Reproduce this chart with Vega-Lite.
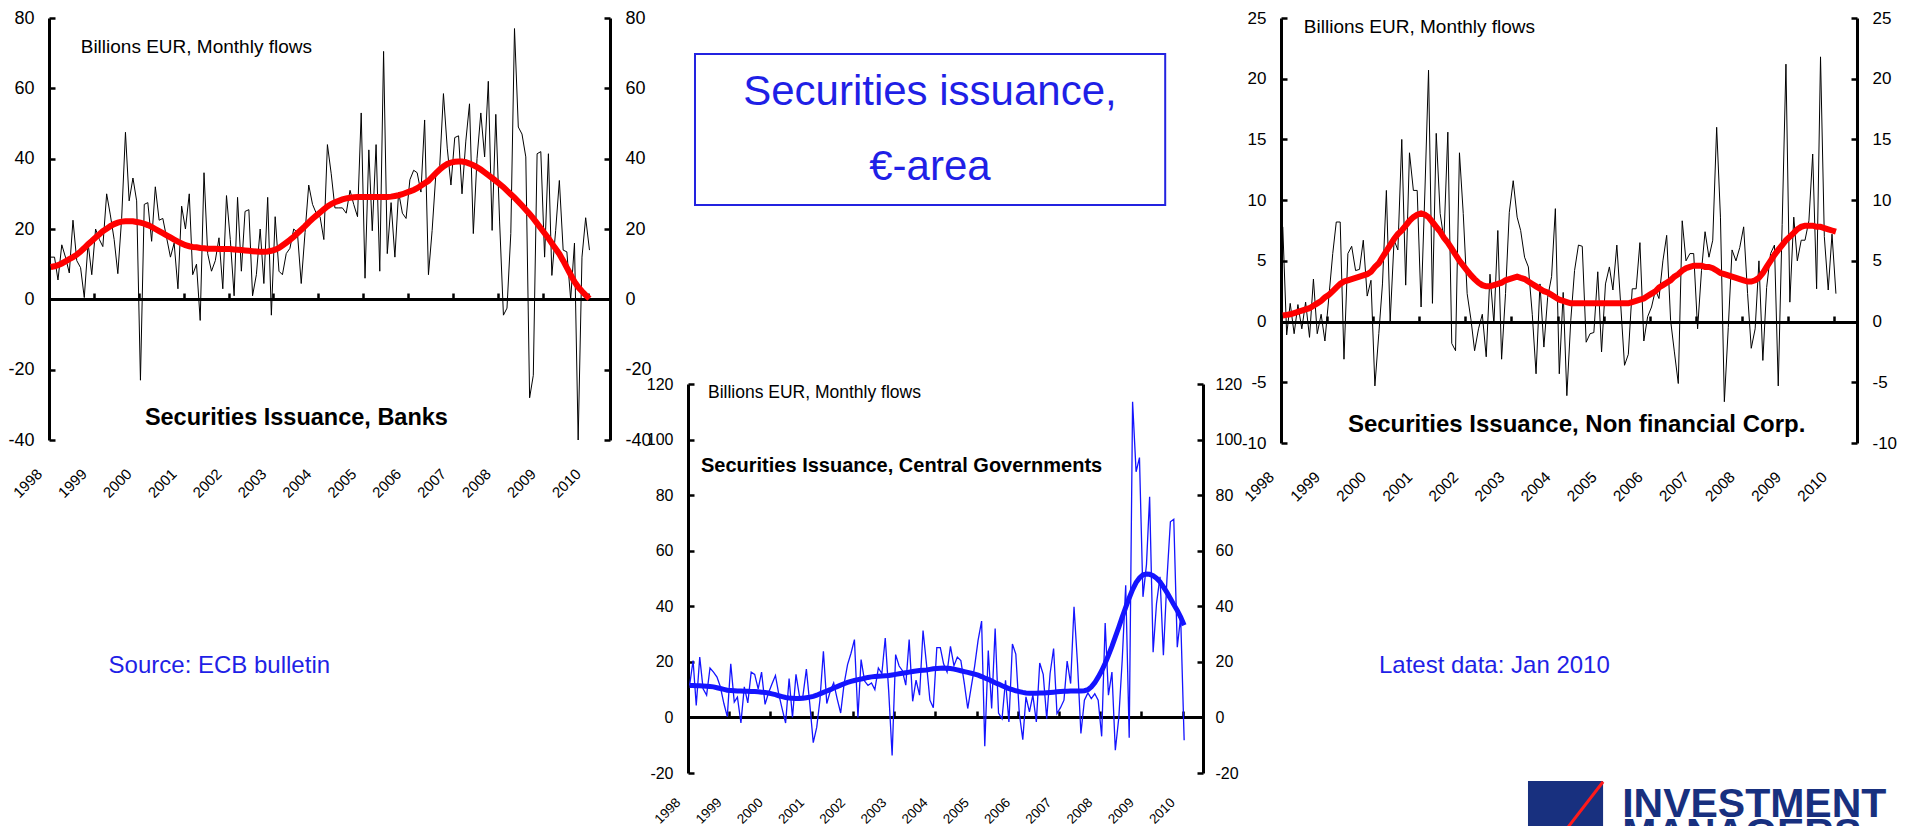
{
"$schema": "https://vega.github.io/schema/vega-lite/v6.json",
"background": "white",
"padding": {"left": 7, "top": 9, "right": 0, "bottom": 0},
"config": {"view": {"stroke": null}, "font": "Liberation Sans", "text": {"font": "Liberation Sans"},
 "axis": {"labelFont": "Liberation Sans", "labelColor": "#000000", "domainColor": "#000000", "tickColor": "#000000", "grid": false, "labelFlush": false, "labelOverlap": false}},
"datasets": {
"banks": [
{"m":"1998-01-15","v":12,"t":9.2},{"m":"1998-02-15","v":12,"t":9.4},{"m":"1998-03-15","v":5.5,"t":9.7},{"m":"1998-04-15","v":15.5,"t":10.2},{"m":"1998-05-15","v":12,"t":10.8},{"m":"1998-06-15","v":7.5,"t":11.4},{"m":"1998-07-15","v":22.5,"t":12},{"m":"1998-08-15","v":11,"t":12.7},{"m":"1998-09-15","v":9,"t":13.6},{"m":"1998-10-15","v":0.5,"t":14.6},{"m":"1998-11-15","v":16,"t":15.7},{"m":"1998-12-15","v":7,"t":16.6},
{"m":"1999-01-15","v":20,"t":17.6},{"m":"1999-02-15","v":17,"t":18.5},{"m":"1999-03-15","v":15,"t":19.4},{"m":"1999-04-15","v":30,"t":20.1},{"m":"1999-05-15","v":24,"t":20.8},{"m":"1999-06-15","v":17,"t":21.4},{"m":"1999-07-15","v":7.3,"t":21.8},{"m":"1999-08-15","v":23,"t":22.1},{"m":"1999-09-15","v":47.5,"t":22.2},{"m":"1999-10-15","v":28,"t":22.2},{"m":"1999-11-15","v":34.5,"t":22.2},{"m":"1999-12-15","v":28,"t":22},
{"m":"2000-01-15","v":-23,"t":21.8},{"m":"2000-02-15","v":27,"t":21.5},{"m":"2000-03-15","v":27.5,"t":21.1},{"m":"2000-04-15","v":16.5,"t":20.6},{"m":"2000-05-15","v":32,"t":20},{"m":"2000-06-15","v":22.5,"t":19.4},{"m":"2000-07-15","v":23,"t":18.8},{"m":"2000-08-15","v":17.5,"t":18.2},{"m":"2000-09-15","v":12,"t":17.6},{"m":"2000-10-15","v":16,"t":17},{"m":"2000-11-15","v":3,"t":16.4},{"m":"2000-12-15","v":26.5,"t":15.9},
{"m":"2001-01-15","v":20,"t":15.4},{"m":"2001-02-15","v":30,"t":15.1},{"m":"2001-03-15","v":7,"t":14.9},{"m":"2001-04-15","v":10,"t":14.8},{"m":"2001-05-15","v":-6,"t":14.6},{"m":"2001-06-15","v":36,"t":14.5},{"m":"2001-07-15","v":13,"t":14.4},{"m":"2001-08-15","v":8,"t":14.4},{"m":"2001-09-15","v":11,"t":14.4},{"m":"2001-10-15","v":17.5,"t":14.3},{"m":"2001-11-15","v":3,"t":14.3},{"m":"2001-12-15","v":29.5,"t":14.3},
{"m":"2002-01-15","v":17,"t":14.3},{"m":"2002-02-15","v":1,"t":14.2},{"m":"2002-03-15","v":29,"t":14.1},{"m":"2002-04-15","v":8,"t":14},{"m":"2002-05-15","v":25,"t":13.9},{"m":"2002-06-15","v":25.5,"t":13.8},{"m":"2002-07-15","v":1,"t":13.7},{"m":"2002-08-15","v":7,"t":13.6},{"m":"2002-09-15","v":20,"t":13.5},{"m":"2002-10-15","v":4.5,"t":13.5},{"m":"2002-11-15","v":29,"t":13.6},{"m":"2002-12-15","v":-4.5,"t":13.8},
{"m":"2003-01-15","v":23.5,"t":14.1},{"m":"2003-02-15","v":8,"t":14.6},{"m":"2003-03-15","v":7,"t":15.3},{"m":"2003-04-15","v":13,"t":16.1},{"m":"2003-05-15","v":14.5,"t":16.9},{"m":"2003-06-15","v":20,"t":17.8},{"m":"2003-07-15","v":19,"t":18.8},{"m":"2003-08-15","v":4.5,"t":19.8},{"m":"2003-09-15","v":19,"t":20.8},{"m":"2003-10-15","v":32.5,"t":21.9},{"m":"2003-11-15","v":27,"t":22.9},{"m":"2003-12-15","v":24.5,"t":23.8},
{"m":"2004-01-15","v":23.5,"t":24.7},{"m":"2004-02-15","v":17,"t":25.6},{"m":"2004-03-15","v":44,"t":26.4},{"m":"2004-04-15","v":35.7,"t":27.1},{"m":"2004-05-15","v":26,"t":27.6},{"m":"2004-06-15","v":26,"t":28},{"m":"2004-07-15","v":26,"t":28.4},{"m":"2004-08-15","v":24.5,"t":28.7},{"m":"2004-09-15","v":31,"t":28.9},{"m":"2004-10-15","v":27,"t":29},{"m":"2004-11-15","v":23.5,"t":29.1},{"m":"2004-12-15","v":53,"t":29.1},
{"m":"2005-01-15","v":6,"t":29.1},{"m":"2005-02-15","v":42.5,"t":29.1},{"m":"2005-03-15","v":19.5,"t":29.1},{"m":"2005-04-15","v":44,"t":29.1},{"m":"2005-05-15","v":8,"t":29.1},{"m":"2005-06-15","v":70.5,"t":29.1},{"m":"2005-07-15","v":13,"t":29.1},{"m":"2005-08-15","v":27.5,"t":29.2},{"m":"2005-09-15","v":12,"t":29.4},{"m":"2005-10-15","v":30.5,"t":29.6},{"m":"2005-11-15","v":24.5,"t":29.9},{"m":"2005-12-15","v":23,"t":30.3},
{"m":"2006-01-15","v":34,"t":30.7},{"m":"2006-02-15","v":36.7,"t":31.1},{"m":"2006-03-15","v":36,"t":31.6},{"m":"2006-04-15","v":30.5,"t":32.3},{"m":"2006-05-15","v":51,"t":33},{"m":"2006-06-15","v":7,"t":33.7},{"m":"2006-07-15","v":19.6,"t":34.8},{"m":"2006-08-15","v":36,"t":35.9},{"m":"2006-09-15","v":38,"t":36.9},{"m":"2006-10-15","v":58.5,"t":37.8},{"m":"2006-11-15","v":43,"t":38.5},{"m":"2006-12-15","v":32.5,"t":38.9},
{"m":"2007-01-15","v":46,"t":39.1},{"m":"2007-02-15","v":46.5,"t":39.2},{"m":"2007-03-15","v":30,"t":39.2},{"m":"2007-04-15","v":45,"t":39},{"m":"2007-05-15","v":55.6,"t":38.6},{"m":"2007-06-15","v":18.7,"t":38.1},{"m":"2007-07-15","v":40,"t":37.6},{"m":"2007-08-15","v":53,"t":36.9},{"m":"2007-09-15","v":40.5,"t":36.1},{"m":"2007-10-15","v":62,"t":35.3},{"m":"2007-11-15","v":19.6,"t":34.5},{"m":"2007-12-15","v":52.6,"t":33.7},
{"m":"2008-01-15","v":22,"t":32.8},{"m":"2008-02-15","v":-4.5,"t":31.9},{"m":"2008-03-15","v":-2.5,"t":30.9},{"m":"2008-04-15","v":18.7,"t":29.9},{"m":"2008-05-15","v":77,"t":28.9},{"m":"2008-06-15","v":49,"t":27.8},{"m":"2008-07-15","v":47,"t":26.7},{"m":"2008-08-15","v":40.5,"t":25.5},{"m":"2008-09-15","v":-28,"t":24.3},{"m":"2008-10-15","v":-21.6,"t":23},{"m":"2008-11-15","v":41.4,"t":21.6},{"m":"2008-12-15","v":42,"t":20.2},
{"m":"2009-01-15","v":12,"t":18.8},{"m":"2009-02-15","v":41.4,"t":17.4},{"m":"2009-03-15","v":6.8,"t":15.9},{"m":"2009-04-15","v":19.6,"t":14.4},{"m":"2009-05-15","v":33.8,"t":12.9},{"m":"2009-06-15","v":14,"t":11},{"m":"2009-07-15","v":13.5,"t":9},{"m":"2009-08-15","v":0,"t":7},{"m":"2009-09-15","v":16,"t":5},{"m":"2009-10-15","v":-40,"t":3.5},{"m":"2009-11-15","v":12,"t":2.3},{"m":"2009-12-15","v":23.2,"t":1.2},
{"m":"2010-01-15","v":14,"t":0.2}
],
"cg": [
{"m":"1998-01-15","v":11.5,"t":11.5},{"m":"1998-02-15","v":20.5,"t":11.5},{"m":"1998-03-15","v":4.3,"t":11.4},{"m":"1998-04-15","v":21.7,"t":11.4},{"m":"1998-05-15","v":10.3,"t":11.3},{"m":"1998-06-15","v":8,"t":11.2},{"m":"1998-07-15","v":17.8,"t":11.1},{"m":"1998-08-15","v":16.3,"t":11},{"m":"1998-09-15","v":14.5,"t":10.7},{"m":"1998-10-15","v":11,"t":10.4},{"m":"1998-11-15","v":5,"t":10.1},{"m":"1998-12-15","v":0.3,"t":9.8},
{"m":"1999-01-15","v":19.3,"t":9.7},{"m":"1999-02-15","v":5.5,"t":9.6},{"m":"1999-03-15","v":7.3,"t":9.5},{"m":"1999-04-15","v":-2,"t":9.5},{"m":"1999-05-15","v":11,"t":9.4},{"m":"1999-06-15","v":5.2,"t":9.4},{"m":"1999-07-15","v":16.3,"t":9.3},{"m":"1999-08-15","v":15.5,"t":9.3},{"m":"1999-09-15","v":10.3,"t":9.2},{"m":"1999-10-15","v":16.3,"t":9.1},{"m":"1999-11-15","v":4.7,"t":9},{"m":"1999-12-15","v":8.8,"t":8.8},
{"m":"2000-01-15","v":12,"t":8.5},{"m":"2000-02-15","v":15.1,"t":8.2},{"m":"2000-03-15","v":8.5,"t":7.8},{"m":"2000-04-15","v":3,"t":7.5},{"m":"2000-05-15","v":-2,"t":7.2},{"m":"2000-06-15","v":14,"t":7},{"m":"2000-07-15","v":0,"t":6.9},{"m":"2000-08-15","v":15.5,"t":6.8},{"m":"2000-09-15","v":7.6,"t":6.8},{"m":"2000-10-15","v":7.6,"t":6.9},{"m":"2000-11-15","v":17.4,"t":7.1},{"m":"2000-12-15","v":5,"t":7.3},
{"m":"2001-01-15","v":-9.1,"t":7.6},{"m":"2001-02-15","v":-3.5,"t":8},{"m":"2001-03-15","v":6.2,"t":8.5},{"m":"2001-04-15","v":23.8,"t":9},{"m":"2001-05-15","v":5,"t":9.5},{"m":"2001-06-15","v":9.5,"t":10},{"m":"2001-07-15","v":12.4,"t":10.6},{"m":"2001-08-15","v":6.7,"t":11.1},{"m":"2001-09-15","v":1.6,"t":11.6},{"m":"2001-10-15","v":12,"t":12.1},{"m":"2001-11-15","v":19,"t":12.6},{"m":"2001-12-15","v":23,"t":13},
{"m":"2002-01-15","v":28,"t":13.3},{"m":"2002-02-15","v":0,"t":13.6},{"m":"2002-03-15","v":20.8,"t":13.8},{"m":"2002-04-15","v":13.1,"t":14.1},{"m":"2002-05-15","v":11.5,"t":14.4},{"m":"2002-06-15","v":12.4,"t":14.6},{"m":"2002-07-15","v":10,"t":14.7},{"m":"2002-08-15","v":17.8,"t":14.8},{"m":"2002-09-15","v":15.8,"t":14.9},{"m":"2002-10-15","v":28.6,"t":15},{"m":"2002-11-15","v":9.2,"t":15.1},{"m":"2002-12-15","v":-13.7,"t":15.3},
{"m":"2003-01-15","v":22.6,"t":15.5},{"m":"2003-02-15","v":18.5,"t":15.7},{"m":"2003-03-15","v":16.9,"t":15.9},{"m":"2003-04-15","v":11.6,"t":16.1},{"m":"2003-05-15","v":28,"t":16.3},{"m":"2003-06-15","v":5.8,"t":16.5},{"m":"2003-07-15","v":13.4,"t":16.7},{"m":"2003-08-15","v":8,"t":16.9},{"m":"2003-09-15","v":31.3,"t":17},{"m":"2003-10-15","v":19.4,"t":17.1},{"m":"2003-11-15","v":6.2,"t":17.3},{"m":"2003-12-15","v":3.5,"t":17.5},
{"m":"2004-01-15","v":25.1,"t":17.6},{"m":"2004-02-15","v":25.1,"t":17.7},{"m":"2004-03-15","v":19.3,"t":17.8},{"m":"2004-04-15","v":16.3,"t":17.7},{"m":"2004-05-15","v":25.6,"t":17.6},{"m":"2004-06-15","v":18.6,"t":17.4},{"m":"2004-07-15","v":21.7,"t":17.1},{"m":"2004-08-15","v":20.5,"t":16.8},{"m":"2004-09-15","v":12.2,"t":16.5},{"m":"2004-10-15","v":3.2,"t":16.2},{"m":"2004-11-15","v":11,"t":15.9},{"m":"2004-12-15","v":18.4,"t":15.6},
{"m":"2005-01-15","v":27.8,"t":15.2},{"m":"2005-02-15","v":34.7,"t":14.7},{"m":"2005-03-15","v":-10.4,"t":14.2},{"m":"2005-04-15","v":24.1,"t":13.7},{"m":"2005-05-15","v":3.2,"t":13.1},{"m":"2005-06-15","v":32,"t":12.5},{"m":"2005-07-15","v":1.6,"t":12},{"m":"2005-08-15","v":-0.5,"t":11.4},{"m":"2005-09-15","v":13.4,"t":10.9},{"m":"2005-10-15","v":-1.6,"t":10.4},{"m":"2005-11-15","v":26.4,"t":10},{"m":"2005-12-15","v":22.8,"t":9.6},
{"m":"2006-01-15","v":1.4,"t":9.3},{"m":"2006-02-15","v":-8,"t":9},{"m":"2006-03-15","v":7.4,"t":8.8},{"m":"2006-04-15","v":2,"t":8.7},{"m":"2006-05-15","v":8,"t":8.7},{"m":"2006-06-15","v":-1.6,"t":8.7},{"m":"2006-07-15","v":19.6,"t":8.8},{"m":"2006-08-15","v":15.5,"t":8.8},{"m":"2006-09-15","v":-0.5,"t":8.9},{"m":"2006-10-15","v":15.8,"t":9},{"m":"2006-11-15","v":24.8,"t":9.1},{"m":"2006-12-15","v":1.4,"t":9.2},
{"m":"2007-01-15","v":3.5,"t":9.3},{"m":"2007-02-15","v":6.2,"t":9.4},{"m":"2007-03-15","v":20.3,"t":9.4},{"m":"2007-04-15","v":12.2,"t":9.5},{"m":"2007-05-15","v":39.8,"t":9.5},{"m":"2007-06-15","v":19.3,"t":9.5},{"m":"2007-07-15","v":-5.8,"t":9.5},{"m":"2007-08-15","v":6.2,"t":9.6},{"m":"2007-09-15","v":8.8,"t":10},{"m":"2007-10-15","v":6.8,"t":11},{"m":"2007-11-15","v":8.5,"t":12.5},{"m":"2007-12-15","v":6.2,"t":14.5},
{"m":"2008-01-15","v":-6.8,"t":16.8},{"m":"2008-02-15","v":34,"t":19.5},{"m":"2008-03-15","v":8,"t":22.4},{"m":"2008-04-15","v":16.3,"t":25.6},{"m":"2008-05-15","v":-11.8,"t":29},{"m":"2008-06-15","v":0,"t":32.5},{"m":"2008-07-15","v":20.6,"t":36.1},{"m":"2008-08-15","v":47.6,"t":39.6},{"m":"2008-09-15","v":-7.3,"t":43},{"m":"2008-10-15","v":113.6,"t":46},{"m":"2008-11-15","v":88.4,"t":48.5},{"m":"2008-12-15","v":93.5,"t":50.2},
{"m":"2009-01-15","v":43.4,"t":51.3},{"m":"2009-02-15","v":55,"t":51.6},{"m":"2009-03-15","v":79.4,"t":51.5},{"m":"2009-04-15","v":23.5,"t":51},{"m":"2009-05-15","v":41,"t":50.1},{"m":"2009-06-15","v":50.6,"t":48.8},{"m":"2009-07-15","v":22.4,"t":47},{"m":"2009-08-15","v":49.4,"t":45},{"m":"2009-09-15","v":70.4,"t":42.8},{"m":"2009-10-15","v":71.3,"t":40.6},{"m":"2009-11-15","v":25.3,"t":38.5},{"m":"2009-12-15","v":36.2,"t":36.1},
{"m":"2010-01-15","v":-8.2,"t":33.2}
],
"nfc": [
{"m":"1998-01-15","v":7.8,"t":0.5},{"m":"1998-02-15","v":-1.1,"t":0.55},{"m":"1998-03-15","v":1.5,"t":0.6},{"m":"1998-04-15","v":-1,"t":0.7},{"m":"1998-05-15","v":1.4,"t":0.8},{"m":"1998-06-15","v":-0.6,"t":0.9},{"m":"1998-07-15","v":1.6,"t":1},{"m":"1998-08-15","v":-1.3,"t":1.1},{"m":"1998-09-15","v":3.5,"t":1.3},{"m":"1998-10-15","v":-1,"t":1.5},{"m":"1998-11-15","v":0.6,"t":1.7},{"m":"1998-12-15","v":-1.6,"t":2},
{"m":"1999-01-15","v":2,"t":2.2},{"m":"1999-02-15","v":5.6,"t":2.5},{"m":"1999-03-15","v":8.2,"t":2.8},{"m":"1999-04-15","v":8.2,"t":3.1},{"m":"1999-05-15","v":-3.1,"t":3.3},{"m":"1999-06-15","v":5.6,"t":3.4},{"m":"1999-07-15","v":6.2,"t":3.5},{"m":"1999-08-15","v":4.2,"t":3.6},{"m":"1999-09-15","v":4.3,"t":3.7},{"m":"1999-10-15","v":6.7,"t":3.8},{"m":"1999-11-15","v":2.1,"t":3.9},{"m":"1999-12-15","v":3.4,"t":4.1},
{"m":"2000-01-15","v":-5.3,"t":4.5},{"m":"2000-02-15","v":-1,"t":4.8},{"m":"2000-03-15","v":3.1,"t":5.3},{"m":"2000-04-15","v":10.8,"t":5.8},{"m":"2000-05-15","v":0,"t":6.3},{"m":"2000-06-15","v":6.7,"t":6.8},{"m":"2000-07-15","v":5.9,"t":7.2},{"m":"2000-08-15","v":15,"t":7.5},{"m":"2000-09-15","v":3,"t":7.9},{"m":"2000-10-15","v":13.9,"t":8.3},{"m":"2000-11-15","v":10.8,"t":8.6},{"m":"2000-12-15","v":10.8,"t":8.8},
{"m":"2001-01-15","v":1.2,"t":8.9},{"m":"2001-02-15","v":11,"t":8.8},{"m":"2001-03-15","v":20.7,"t":8.6},{"m":"2001-04-15","v":1.5,"t":8.2},{"m":"2001-05-15","v":15.5,"t":7.8},{"m":"2001-06-15","v":8.9,"t":7.4},{"m":"2001-07-15","v":6.8,"t":6.9},{"m":"2001-08-15","v":15.6,"t":6.5},{"m":"2001-09-15","v":-1.8,"t":6},{"m":"2001-10-15","v":-2.4,"t":5.5},{"m":"2001-11-15","v":13.9,"t":5},{"m":"2001-12-15","v":8.9,"t":4.6},
{"m":"2002-01-15","v":2.3,"t":4.2},{"m":"2002-02-15","v":0.1,"t":3.8},{"m":"2002-03-15","v":-2.4,"t":3.5},{"m":"2002-04-15","v":-0.6,"t":3.2},{"m":"2002-05-15","v":0.6,"t":3},{"m":"2002-06-15","v":-2.9,"t":2.9},{"m":"2002-07-15","v":3.9,"t":2.9},{"m":"2002-08-15","v":-0.2,"t":3},{"m":"2002-09-15","v":7.5,"t":3.1},{"m":"2002-10-15","v":-3.1,"t":3.2},{"m":"2002-11-15","v":2.3,"t":3.4},{"m":"2002-12-15","v":9,"t":3.5},
{"m":"2003-01-15","v":11.6,"t":3.6},{"m":"2003-02-15","v":8.6,"t":3.7},{"m":"2003-03-15","v":7.5,"t":3.6},{"m":"2003-04-15","v":5.3,"t":3.5},{"m":"2003-05-15","v":4.5,"t":3.3},{"m":"2003-06-15","v":0.6,"t":3.1},{"m":"2003-07-15","v":-4.3,"t":2.9},{"m":"2003-08-15","v":3.1,"t":2.7},{"m":"2003-09-15","v":-2.1,"t":2.5},{"m":"2003-10-15","v":2,"t":2.4},{"m":"2003-11-15","v":3.7,"t":2.2},{"m":"2003-12-15","v":9.3,"t":2},
{"m":"2004-01-15","v":-4.3,"t":1.8},{"m":"2004-02-15","v":2.4,"t":1.7},{"m":"2004-03-15","v":-6.1,"t":1.6},{"m":"2004-04-15","v":0.1,"t":1.5},{"m":"2004-05-15","v":4.2,"t":1.5},{"m":"2004-06-15","v":6.3,"t":1.5},{"m":"2004-07-15","v":6.2,"t":1.5},{"m":"2004-08-15","v":-1.7,"t":1.5},{"m":"2004-09-15","v":-1,"t":1.5},{"m":"2004-10-15","v":-0.9,"t":1.5},{"m":"2004-11-15","v":4.1,"t":1.5},{"m":"2004-12-15","v":-2.5,"t":1.5},
{"m":"2005-01-15","v":3.1,"t":1.5},{"m":"2005-02-15","v":4.5,"t":1.5},{"m":"2005-03-15","v":2.6,"t":1.5},{"m":"2005-04-15","v":6.3,"t":1.5},{"m":"2005-05-15","v":1.5,"t":1.5},{"m":"2005-06-15","v":-3.6,"t":1.5},{"m":"2005-07-15","v":-2.7,"t":1.5},{"m":"2005-08-15","v":2.7,"t":1.6},{"m":"2005-09-15","v":2.7,"t":1.7},{"m":"2005-10-15","v":6.5,"t":1.8},{"m":"2005-11-15","v":-1.6,"t":1.9},{"m":"2005-12-15","v":0.4,"t":2.1},
{"m":"2006-01-15","v":1.2,"t":2.3},{"m":"2006-02-15","v":2.6,"t":2.5},{"m":"2006-03-15","v":1.9,"t":2.8},{"m":"2006-04-15","v":5,"t":3},{"m":"2006-05-15","v":7.1,"t":3.2},{"m":"2006-06-15","v":0.1,"t":3.4},{"m":"2006-07-15","v":-2.5,"t":3.7},{"m":"2006-08-15","v":-5.1,"t":3.9},{"m":"2006-09-15","v":8.3,"t":4.2},{"m":"2006-10-15","v":5,"t":4.4},{"m":"2006-11-15","v":5.6,"t":4.5},{"m":"2006-12-15","v":5.6,"t":4.6},
{"m":"2007-01-15","v":-0.6,"t":4.6},{"m":"2007-02-15","v":4.2,"t":4.6},{"m":"2007-03-15","v":7.4,"t":4.5},{"m":"2007-04-15","v":5.3,"t":4.5},{"m":"2007-05-15","v":6.7,"t":4.4},{"m":"2007-06-15","v":16,"t":4.2},{"m":"2007-07-15","v":8.6,"t":4},{"m":"2007-08-15","v":-6.6,"t":3.9},{"m":"2007-09-15","v":-0.5,"t":3.8},{"m":"2007-10-15","v":5.9,"t":3.7},{"m":"2007-11-15","v":5,"t":3.6},{"m":"2007-12-15","v":6.1,"t":3.5},
{"m":"2008-01-15","v":7.8,"t":3.4},{"m":"2008-02-15","v":2.3,"t":3.3},{"m":"2008-03-15","v":-2.2,"t":3.3},{"m":"2008-04-15","v":-0.6,"t":3.4},{"m":"2008-05-15","v":5,"t":3.6},{"m":"2008-06-15","v":-3.2,"t":4},{"m":"2008-07-15","v":2.8,"t":4.5},{"m":"2008-08-15","v":5.6,"t":5},{"m":"2008-09-15","v":6.3,"t":5.5},{"m":"2008-10-15","v":-5.3,"t":5.9},{"m":"2008-11-15","v":8,"t":6.3},{"m":"2008-12-15","v":21.2,"t":6.7},
{"m":"2009-01-15","v":1.6,"t":7},{"m":"2009-02-15","v":8.6,"t":7.3},{"m":"2009-03-15","v":5,"t":7.6},{"m":"2009-04-15","v":6.7,"t":7.8},{"m":"2009-05-15","v":6.7,"t":7.9},{"m":"2009-06-15","v":8.3,"t":7.9},{"m":"2009-07-15","v":13.8,"t":7.9},{"m":"2009-08-15","v":2.7,"t":7.8},{"m":"2009-09-15","v":21.8,"t":7.8},{"m":"2009-10-15","v":7,"t":7.7},{"m":"2009-11-15","v":2.6,"t":7.6},{"m":"2009-12-15","v":7.2,"t":7.5},
{"m":"2010-01-15","v":2.3,"t":7.4}
]
},
"spacing": 78,
"bounds": "flush",
"hconcat": [
{
 "width": 561, "height": 422,
 "layer": [
  {"data": {"name": "banks"}, "mark": {"type": "line", "color": "#000000", "strokeWidth": 1},
   "encoding": {
    "x": {"field": "m", "type": "temporal", "scale": {"type": "utc", "nice": false, "domain": [{"year":1998,"month":1,"date":1,"utc":true},{"year":2010,"month":7,"date":1,"utc":true}]},
     "axis": {"orient": "bottom", "offset": -141, "title": null, "format": "%Y", "values": [883612800000,915148800000,946684800000,978307200000,1009843200000,1041379200000,1072915200000,1104537600000,1136073600000,1167609600000,1199145600000,1230768000000,1262304000000],
      "domain": true, "ticks": true, "labels": true, "domainWidth": 3, "tickSize": -6, "tickWidth": 2.5, "labelAngle": -45, "labelAlign": "right", "labelBaseline": "middle", "labelPadding": 178, "labelOffset": -10, "labelFontSize": 15}},
    "y": {"field": "v", "type": "quantitative", "scale": {"domain": [-40, 80], "nice": false, "zero": false},
     "axis": {"orient": "left", "title": null, "values": [-40,-20,0,20,40,60,80], "labelExpr": "'' + datum.value", "domainWidth": 3, "tickSize": -6, "tickWidth": 2.5, "labelPadding": 21, "labelFontSize": 18}}
   }},
  {"data": {"name": "banks"}, "mark": {"type": "line", "color": "#ff0000", "strokeWidth": 6},
   "encoding": {
    "x": {"field": "m", "type": "temporal"},
    "y": {"field": "t", "type": "quantitative", "scale": {"domain": [-40, 80], "nice": false, "zero": false},
     "axis": {"orient": "right", "title": null, "values": [-40,-20,0,20,40,60,80], "labelExpr": "'' + datum.value", "domainWidth": 3, "tickSize": -6, "tickWidth": 2.5, "labelPadding": 21, "labelFontSize": 18}}
   }},
  {"data": {"values": [{}]}, "mark": {"type": "text", "text": "Billions EUR, Monthly flows", "align": "left", "baseline": "alphabetic", "fontSize": 19, "color": "#000000"},
   "encoding": {"x": {"datum": {"year":1998,"month":9,"date":16,"utc":true}, "type": "temporal"}, "y": {"datum": 70, "type": "quantitative", "axis": null}}},
  {"data": {"values": [{}]}, "mark": {"type": "text", "text": "Securities Issuance, Banks", "align": "left", "baseline": "alphabetic", "fontSize": 23.5, "fontWeight": "bold", "color": "#000000"},
   "encoding": {"x": {"datum": {"year":2000,"month":2,"date":20,"utc":true}, "type": "temporal"}, "y": {"datum": -35.7, "type": "quantitative", "axis": null}}},
  {"data": {"values": [{}]}, "mark": {"type": "text", "text": "Source: ECB bulletin", "align": "left", "baseline": "middle", "fontSize": 24, "color": "#1f1fe6"},
   "encoding": {"x": {"datum": {"year":1999,"month":5,"date":1,"utc":true}, "type": "temporal"}, "y": {"datum": -104.3, "type": "quantitative", "axis": null}}}
 ],
 "resolve": {"axis": {"y": "independent"}}
},
{
 "width": 515, "height": 755,
 "layer": [
  {"data": {"name": "cg"}, "mark": {"type": "line", "color": "#1414ff", "strokeWidth": 1.3},
   "encoding": {
    "x": {"field": "m", "type": "temporal", "scale": {"type": "utc", "nice": false, "domain": [{"year":1998,"month":1,"date":1,"utc":true},{"year":2010,"month":7,"date":1,"utc":true}]},
     "axis": {"orient": "bottom", "offset": -56, "title": null, "format": "%Y", "values": [883612800000,915148800000,946684800000,978307200000,1009843200000,1041379200000,1072915200000,1104537600000,1136073600000,1167609600000,1199145600000,1230768000000,1262304000000],
      "domain": true, "ticks": true, "labels": true, "domainWidth": 3, "tickSize": -6, "tickWidth": 2.5, "labelAngle": -45, "labelAlign": "right", "labelBaseline": "middle", "labelPadding": 89, "labelOffset": -10, "labelFontSize": 13.5}},
    "y": {"field": "v", "type": "quantitative", "scale": {"domain": [-20, 120], "range": [755, 366], "nice": false, "zero": false},
     "axis": {"orient": "left", "title": null, "values": [-20,0,20,40,60,80,100,120], "labelExpr": "'' + datum.value", "domainWidth": 3, "tickSize": -6, "tickWidth": 2.5, "labelPadding": 21, "labelFontSize": 16}}
   }},
  {"data": {"name": "cg"}, "mark": {"type": "line", "color": "#1414ff", "strokeWidth": 5},
   "encoding": {
    "x": {"field": "m", "type": "temporal"},
    "y": {"field": "t", "type": "quantitative", "scale": {"domain": [-20, 120], "range": [755, 366], "nice": false, "zero": false},
     "axis": {"orient": "right", "title": null, "values": [-20,0,20,40,60,80,100,120], "labelExpr": "'' + datum.value", "domainWidth": 3, "tickSize": -6, "tickWidth": 2.5, "labelPadding": 18, "labelFontSize": 16}}
   }},
  {"data": {"values": [{}]}, "mark": {"type": "rect", "filled": false, "stroke": "#2323e0", "strokeWidth": 2},
   "encoding": {"x": {"datum": {"year":1998,"month":3,"date":4,"utc":true}, "type": "temporal"}, "x2": {"datum": {"year":2009,"month":7,"date":31,"utc":true}},
    "y": {"datum": 238.8, "type": "quantitative", "axis": null}, "y2": {"datum": 184.4}}},
  {"data": {"values": [{}]}, "mark": {"type": "text", "text": "Securities issuance,", "align": "center", "baseline": "middle", "fontSize": 42, "color": "#1f1fe6"},
   "encoding": {"x": {"datum": {"year":2003,"month":11,"date":15,"utc":true}, "type": "temporal"}, "y": {"datum": 225.1, "type": "quantitative", "axis": null}}},
  {"data": {"values": [{}]}, "mark": {"type": "text", "text": "€-area", "align": "center", "baseline": "middle", "fontSize": 42, "color": "#1f1fe6"},
   "encoding": {"x": {"datum": {"year":2003,"month":11,"date":15,"utc":true}, "type": "temporal"}, "y": {"datum": 198.1, "type": "quantitative", "axis": null}}},
  {"data": {"values": [{}]}, "mark": {"type": "text", "text": "Billions EUR, Monthly flows", "align": "left", "baseline": "alphabetic", "fontSize": 17.5, "color": "#000000"},
   "encoding": {"x": {"datum": {"year":1998,"month":6,"date":27,"utc":true}, "type": "temporal"}, "y": {"datum": 115, "type": "quantitative", "axis": null}}},
  {"data": {"values": [{}]}, "mark": {"type": "text", "text": "Securities Issuance, Central Governments", "align": "left", "baseline": "alphabetic", "fontSize": 20, "fontWeight": "bold", "color": "#000000"},
   "encoding": {"x": {"datum": {"year":1998,"month":4,"date":26,"utc":true}, "type": "temporal"}, "y": {"datum": 88.4, "type": "quantitative", "axis": null}}}
 ],
 "resolve": {"axis": {"y": "independent"}}
},
{
 "width": 576, "height": 425,
 "layer": [
  {"data": {"name": "nfc"}, "mark": {"type": "line", "color": "#000000", "strokeWidth": 1},
   "encoding": {
    "x": {"field": "m", "type": "temporal", "scale": {"type": "utc", "nice": false, "domain": [{"year":1998,"month":1,"date":1,"utc":true},{"year":2010,"month":7,"date":1,"utc":true}]},
     "axis": {"orient": "bottom", "offset": -121, "title": null, "format": "%Y", "values": [883612800000,915148800000,946684800000,978307200000,1009843200000,1041379200000,1072915200000,1104537600000,1136073600000,1167609600000,1199145600000,1230768000000,1262304000000],
      "domain": true, "ticks": true, "labels": true, "domainWidth": 3, "tickSize": -6, "tickWidth": 2.5, "labelAngle": -45, "labelAlign": "right", "labelBaseline": "middle", "labelPadding": 158, "labelOffset": -10, "labelFontSize": 15.5}},
    "y": {"field": "v", "type": "quantitative", "scale": {"domain": [-10, 25], "nice": false, "zero": false},
     "axis": {"orient": "left", "title": null, "values": [-10,-5,0,5,10,15,20,25], "labelExpr": "'' + datum.value", "domainWidth": 3, "tickSize": -6, "tickWidth": 2.5, "labelPadding": 21, "labelFontSize": 17}}
   }},
  {"data": {"name": "nfc"}, "mark": {"type": "line", "color": "#ff0000", "strokeWidth": 6},
   "encoding": {
    "x": {"field": "m", "type": "temporal"},
    "y": {"field": "t", "type": "quantitative", "scale": {"domain": [-10, 25], "nice": false, "zero": false},
     "axis": {"orient": "right", "title": null, "values": [-10,-5,0,5,10,15,20,25], "labelExpr": "'' + datum.value", "domainWidth": 3, "tickSize": -6, "tickWidth": 2.5, "labelPadding": 21, "labelFontSize": 17}}
   }},
  {"data": {"values": [{}]}, "mark": {"type": "text", "text": "Billions EUR, Monthly flows", "align": "left", "baseline": "alphabetic", "fontSize": 19, "color": "#000000"},
   "encoding": {"x": {"datum": {"year":1998,"month":7,"date":1,"utc":true}, "type": "temporal"}, "y": {"datum": 23.76, "type": "quantitative", "axis": null}}},
  {"data": {"values": [{}]}, "mark": {"type": "text", "text": "Securities Issuance, Non financial Corp.", "align": "left", "baseline": "alphabetic", "fontSize": 24, "fontWeight": "bold", "color": "#000000"},
   "encoding": {"x": {"datum": {"year":1999,"month":6,"date":15,"utc":true}, "type": "temporal"}, "y": {"datum": -9.09, "type": "quantitative", "axis": null}}},
  {"data": {"values": [{}]}, "mark": {"type": "text", "text": "Latest data: Jan 2010", "align": "left", "baseline": "middle", "fontSize": 24, "color": "#1f1fe6"},
   "encoding": {"x": {"datum": {"year":2000,"month":2,"date":16,"utc":true}, "type": "temporal"}, "y": {"datum": -28.36, "type": "quantitative", "axis": null}}},
  {"data": {"values": [{}]}, "mark": {"type": "rect", "color": "#18307f"},
   "encoding": {"x": {"datum": {"year":2003,"month":5,"date":12,"utc":true}, "type": "temporal"}, "x2": {"datum": {"year":2004,"month":12,"date":27,"utc":true}},
    "y": {"datum": -37.83, "type": "quantitative", "axis": null}, "y2": {"datum": -44.0}}},
  {"data": {"values": [{}]}, "mark": {"type": "rule", "color": "#ff1a1a", "strokeWidth": 3},
   "encoding": {"x": {"datum": {"year":2004,"month":12,"date":27,"utc":true}, "type": "temporal"}, "x2": {"datum": {"year":2004,"month":1,"date":5,"utc":true}},
    "y": {"datum": -37.9, "type": "quantitative", "axis": null}, "y2": {"datum": -42.7}}},
  {"data": {"values": [{}]}, "mark": {"type": "text", "text": "AXA", "align": "center", "baseline": "alphabetic", "fontSize": 22, "fontWeight": "bold", "color": "#ffffff"},
   "encoding": {"x": {"datum": {"year":2004,"month":1,"date":28,"utc":true}, "type": "temporal"}, "y": {"datum": -43.1, "type": "quantitative", "axis": null}}},
  {"data": {"values": [{}]}, "mark": {"type": "text", "text": "INVESTMENT", "align": "left", "baseline": "alphabetic", "fontSize": 41, "fontWeight": "bold", "color": "#18307f"},
   "encoding": {"x": {"datum": {"year":2005,"month":5,"date":27,"utc":true}, "type": "temporal"}, "y": {"datum": -40.8, "type": "quantitative", "axis": null}}},
  {"data": {"values": [{}]}, "mark": {"type": "text", "text": "MANAGERS", "align": "left", "baseline": "alphabetic", "fontSize": 41, "fontWeight": "bold", "color": "#18307f"},
   "encoding": {"x": {"datum": {"year":2005,"month":5,"date":27,"utc":true}, "type": "temporal"}, "y": {"datum": -43.3, "type": "quantitative", "axis": null}}}
 ],
 "resolve": {"axis": {"y": "independent"}}
}
]
}
